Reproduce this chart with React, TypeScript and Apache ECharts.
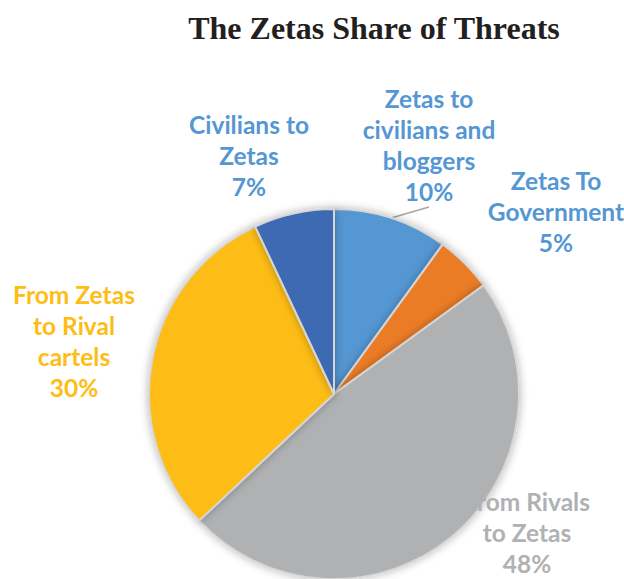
import React, { useEffect, useRef } from "react";
import * as echarts from "echarts";

const TITLE = "The Zetas Share of Threats";
const CATEGORIES = [
  "Zetas to\ncivilians and\nbloggers",
  "Zetas To\nGovernment",
  "From Rivals\nto Zetas",
  "From Zetas\nto Rival\ncartels",
  "Civilians to\nZetas",
];
const VALUES = [10, 5, 48, 30, 7];
const SLICE_COLORS = ["#5597D3", "#EB7B26", "#B0B1B3", "#FDBD13", "#3D6BB3"];
const LABEL_COLORS = ["#5597D3", "#5597D3", "#B0B1B3", "#FDBD13", "#5597D3"];

// label block centres (layout)
const LABEL_POS: [number, number][] = [
  [429, 145],
  [556, 211],
  [527, 532],
  [74, 341],
  [249, 155],
];

export default function App() {
  const ref = useRef<HTMLDivElement>(null);
  useEffect(() => {
    if (!ref.current) return;
    const chart = echarts.init(ref.current, null, { renderer: "svg" });
    const data = CATEGORIES.map((name, i) => ({
      name,
      value: VALUES[i],
      itemStyle: { color: SLICE_COLORS[i] },
      label: { color: LABEL_COLORS[i] },
      labelLine: { show: i === 0 },
    }));
    chart.setOption({
      animation: false,
      title: {
        text: TITLE,
        left: 369,
        textAlign: "center",
        top: 7,
        textStyle: {
          fontFamily: "Liberation Serif",
          fontWeight: "bold",
          fontSize: 32,
          color: "#231f20",
        },
      },
      series: [
        {
          type: "pie",
          center: [334, 394],
          radius: 185,
          startAngle: 90,
          clockwise: true,
          data,
          itemStyle: {
            borderColor: "#d6d6d6",
            borderWidth: 2,
            shadowBlur: 8,
            shadowColor: "rgba(0,0,0,0.3)",
          },
          label: {
            show: true,
            position: "outside",
            formatter: (p: any) => `${p.name}\n${p.value}%`,
            fontFamily: "Lato",
            fontWeight: "bold",
            fontSize: 24.5,
            lineHeight: 31,
            align: "center",
            overflow: "none",
          },
          labelLine: {
            show: false,
            length: 8,
            length2: 0,
            lineStyle: { color: "#a6a6a6", width: 1.5 },
          },
          labelLayout: (params: any) => {
            const [x, y] = LABEL_POS[params.dataIndex];
            return { x, y, align: "center", verticalAlign: "middle" };
          },
        },
      ],
    });
    return () => chart.dispose();
  }, []);
  return (
    <div
      ref={ref}
      style={{ position: "absolute", left: 0, top: 0, width: 624, height: 579 }}
    />
  );
}
